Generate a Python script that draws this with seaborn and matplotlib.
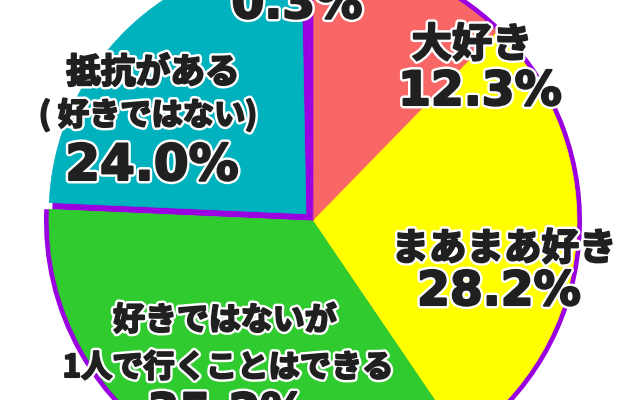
import matplotlib
matplotlib.use('Agg')
import matplotlib.pyplot as plt
import matplotlib.patheffects as pe
import seaborn as sns

# survey answers, clockwise from 12 o'clock
labels = ['大好き', 'まあまあ好き', '好きではないが\n1人で行くことはできる',
          '抵抗がある\n( 好きではない)', 'その他']
values = [12.3, 28.2, 35.2, 24.0, 0.3]
colors = ['#F86666', '#FFFF00', '#2FCB2F', '#00B2BE', '#9A00E0']
ring_color = '#9A00E0'

sns.set_theme(style='white')
plt.rcParams['font.family'] = ['Noto Sans CJK JP', 'DejaVu Sans']

fig = plt.figure(figsize=(6.4, 4.0), dpi=100)
ax = fig.add_axes([0, 0, 1, 1])

cx, cy, r = 313, 400 - 221, 264
TEAL = 3

# purple pie underneath: gives the outer ring and fills the gaps
# round the teal slice (which has no outer ring of its own)
base, _ = ax.pie(values, colors=[ring_color] * len(values), radius=r + 5,
                 center=(cx, cy), startangle=90, counterclock=False,
                 frame=True, wedgeprops=dict(linewidth=0))
base[TEAL].set_radius(r - 3)

# explode is in data units (pixels here)
explode = [0, 0, 0, 10, 0]
wedges, _ = ax.pie(values, colors=colors, radius=r, center=(cx, cy),
                   startangle=90, counterclock=False, explode=explode,
                   frame=True)
for w in wedges:
    w.set_edgecolor(w.get_facecolor())
    w.set_linewidth(0.5)
wedges[TEAL].set_radius(r - 7)

ax.set_xlim(0, 640)
ax.set_ylim(0, 400)
ax.set_aspect('equal')
ax.axis('off')

txt_color = '#202020'
stroke = [pe.Stroke(linewidth=5, foreground='white'),
          pe.Stroke(linewidth=1.5, foreground=txt_color),
          pe.Normal()]


def jp(x, y, s, size):
    ax.text(x, 400 - y, s, ha='center', va='baseline', fontsize=size,
            fontweight='bold', color=txt_color, path_effects=stroke,
            family=['Noto Sans CJK JP', 'DejaVu Sans'])


def pct(x, y, v, size):
    ax.text(x, 400 - y, f'{v:.1f}%', ha='center', va='baseline', fontsize=size,
            fontweight='bold', color=txt_color, path_effects=stroke,
            family=['DejaVu Sans'])


# 大好き
jp(472, 57, labels[0], 29)
pct(480, 105, values[0], 34)
# まあまあ好き
jp(504, 260, labels[1], 27)
pct(499, 305, values[1], 34)
# 好きではないが / 1人で行くことはできる
line1, line2 = labels[2].split('\n')
jp(225, 330, line1, 23)
jp(228, 377, line2, 22.5)
pct(227, 426, values[2], 33)
# 抵抗がある（好きではない）
line1, line2 = labels[3].split('\n')
jp(153, 83, line1, 25)
jp(148, 125, line2, 22.5)
pct(152, 180, values[3], 36)
# その他
pct(297, 18, values[4], 34)

fig.savefig('out.png', dpi=100)
